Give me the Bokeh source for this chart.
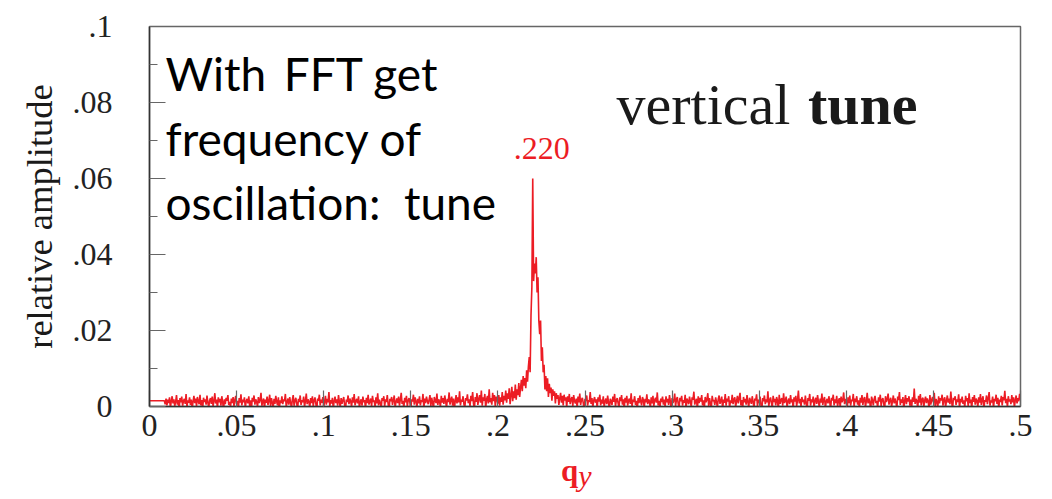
import numpy as np
from bokeh.plotting import figure
from bokeh.layouts import column
from bokeh.models import Range1d, FixedTicker, Label, Div
from bokeh.embed import file_html
from bokeh.resources import INLINE

# FFT amplitude spectrum of the vertical motion, one value per 0.0005 in q_y,
# stored in units of 1e-4 of relative amplitude (q_y = 0 ... 0.5)
freq_step = 0.0005
amp_e4 = [
    15, 15, 15, 15, 15, 15, 15, 15, 15, 15, 15, 15, 15, 15, 15, 15, 15, 15, 6, 21,
    3, 18, 9, 24, -4, 14, 27, 8, 19, 1, 12, 30, 5, 17, -9, 22, 11, 26, 2, 15,
    20, 7, 33, -2, 16, 10, 24, 4, 18, -6, 13, 28, 9, 21, 0, 25, 14, 6, 31, 3,
    17, -8, 23, 12, 19, 5, 29, 10, -3, 16, 22, 7, 26, 1, 14, 35, 8, 18, -5, 24,
    11, 20, 2, 27, 13, -11, 19, 6, 23, 15, 30, 4, 12, -2, 21, 9, 25, 0, 17, 28,
    7, 15, -6, 22, 10, 32, 3, 18, 11, 24, -4, 14, 20, 8, 27, 1, 16, -9, 23, 13,
    29, 5, 19, 12, -1, 25, 9, 17, 36, 2, 14, 21, -7, 18, 10, 26, 4, 15, 31, 0,
    22, 11, -3, 20, 7, 28, 13, 3, 24, -12, 16, 9, 27, 6, 19, 14, 33, -2, 12, 21,
    5, 25, 10, -5, 18, 30, 2, 15, 23, 8, -8, 20, 12, 29, 4, 17, 11, 26, -1, 14,
    34, 6, 19, 13, -4, 22, 9, 27, 1, 16, 24, 7, -10, 21, 15, 31, 3, 18, 10, 25,
    -2, 13, 28, 5, 20, 11, 38, 0, 17, 8, 23, -6, 14, 26, 9, 19, 2, 30, 12, -3,
    22, 7, 16, 25, 4, -9, 18, 12, 29, 6, 21, 14, -1, 24, 10, 33, 3, 15, 20, 8,
    27, -5, 13, 19, 2, 26, 11, 17, -7, 23, 9, 31, 5, 14, 21, 0, 28, 12, 16, -2,
    24, 8, 35, 3, 18, 10, -6, 22, 15, 27, 1, 19, 12, 30, 6, -11, 20, 14, 25, 4,
    17, 29, -3, 12, 21, 9, 26, 2, 18, 36, 7, 15, -4, 23, 11, 28, 0, 16, 22, 10,
    -8, 19, 13, 31, 5, 24, 14, -2, 20, 8, 27, 3, 17, 12, 33, -5, 21, 9, 26, 15,
    6, 18, 30, 1, 23, 11, -7, 25, 16, 9, 34, 4, 19, 13, -1, 28, 10, 22, 7, 29,
    14, -4, 20, 12, 37, 5, 17, 26, 2, 21, -9, 15, 30, 8, 24, 11, 40, 3, 18, 13,
    27, 6, -3, 22, 16, 32, 9, 19, 1, 28, 14, 38, 7, -6, 25, 12, 35, 4, 20, 30,
    10, 42, 2, 24, 15, 33, -4, 19, 28, 8, 45, 11, 22, 5, 36, 14, 30, 0, 26, 18,
    # tune line, q_y = 0.200 ... 0.235
    8, 30, 2, 24, 12, 38, 5, 28, 16, 42,
    10, 35, 20, 48, 6, 30, 52, 14, 40, 22,
    58, 18, 45, 30, 62, 25, 50, 70, 40, 80,
    55, 75, 48, 95, 65, 105, 130, 90, 240, 314,
    600, 330, 376, 350, 393, 300, 340, 226, 190, 226,
    120, 156, 90, 110, 45, 80, 40, 74, 25, 60,
    35, 50, 15, 45, 28, 40, 8, 35, 20, 30,
    4,
    22, 36, 10, 28, 3, 31, 16, 24, -2, 27, 12, 33, 6, 19, 25, 1, 30, 14, 8, 21,
    -5, 26, 11, 34, 4, 18, 23, 9, -8, 20, 15, 29, 2, 17, 12, 38, 7, 22, -3, 16,
    25, 10, 19, -6, 24, 13, 31, 3, 18, 8, 27, -2, 14, 21, 6, 29, 11, -9, 20, 15,
    4, 26, 12, 33, 0, 17, 22, 9, -4, 24, 14, 30, 5, 19, -7, 23, 10, 28, 2, 16,
    21, 7, 35, -1, 18, 12, 27, 4, 15, -10, 22, 9, 29, 13, 3, 25, 17, -3, 20, 11,
    32, 6, 19, 14, -5, 24, 8, 28, 1, 17, 23, 10, 37, 3, 15, -8, 21, 12, 26, 5,
    18, -2, 27, 11, 20, 4, 30, 13, -6, 22, 9, 16, 34, 0, 19, 25, 7, -4, 23, 14,
    28, 2, 17, 10, 31, -7, 21, 15, 6, 26, 12, -1, 24, 18, 39, 5, 14, 20, -9, 27,
    9, 23, 13, 30, 3, 16, -4, 25, 11, 19, 35, 1, 22, 8, -6, 28, 14, 17, 4, 24,
    12, -3, 20, 29, 7, 15, 26, -8, 18, 10, 33, 2, 21, 13, 27, -5, 16, 9, 31, 6,
    19, 24, -1, 14, 28, 8, 22, 36, 3, 17, -7, 25, 11, 20, 5, 30, 12, -2, 23, 15,
    7, 27, 13, -6, 21, 16, 32, 1, 18, 9, 26, 4, -10, 22, 14, 29, 6, 19, 11, 40,
    0, 17, 24, 10, -4, 28, 12, 20, 3, 25, 15, -8, 31, 7, 18, 22, 2, 35, 9, 16,
    26, -3, 14, 21, 6, 30, 11, 19, -6, 24, 13, 28, 1, 17, 42, 8, 20, -1, 25, 12,
    18, 5, 29, 9, -9, 22, 15, 33, 2, 19, 11, 26, -4, 16, 23, 7, 30, 13, -2, 21,
    10, 34, 4, 18, 25, -5, 14, 20, 8, 27, 12, -7, 23, 16, 31, 3, 19, 9, 28, 0,
    15, 22, -3, 26, 11, 17, 37, 6, 20, 13, -8, 24, 9, 29, 2, 18, 14, 33, -1, 21,
    12, 27, 5, 16, -6, 23, 10, 30, 4, 19, 25, -2, 14, 36, 8, 21, 11, -9, 26, 17,
    3, 20, 28, 9, 15, -4, 24, 13, 31, 1, 18, 22, 7, -7, 27, 12, 19, 34, 5, 16,
    23, -1, 14, 29, 8, 21, 11, -5, 26, 17, 38, 4, 19, 10, 25, -8, 15, 30, 6, 22,
    13, 27, 2, 18, -3, 24, 12, 47, 7, 20, 15, -6, 28, 10, 33, 3, 19, 23, -1, 16,
    26, 9, 21, 14, -7, 30, 5, 17, 25, 11, 36, 0, 20, 13, -4, 27, 8, 22, 16, 31,
    2, 18, 24, -2, 15, 29, 10, 21, 6, 39, 13, -9, 23, 17, 27, 4, 19, 12, 32, -5,
    20, 11, 26, 7, 16, -3, 28, 14, 22, 1, 35, 9, 18, -6, 25, 12, 30, 5, 21, 15,
    -1, 24, 10, 33, 4, 19, 27, -8, 17, 13, 29, 6, 22, 38, 2, 16, 11, 26, -4, 20,
    14, 31, 7, 23, -5, 18, 12, 28, 3, 25, 16, 41, 9, 20, -2, 27, 13, 19, 6, 30,
    11, 24, -3, 17, 29, 8, 22, 14, 33, 18,
]

tune_value = 0.220
tune_label = ".220"

x_ticks = [0, 0.05, 0.1, 0.15, 0.2, 0.25, 0.3, 0.35, 0.4, 0.45, 0.5]
x_tick_labels = ["0", ".05", ".1", ".15", ".2", ".25", ".3", ".35", ".4", ".45", ".5"]
y_ticks = [0, 0.02, 0.04, 0.06, 0.08, 0.1]
y_tick_labels = ["0", ".02", ".04", ".06", ".08", ".1"]
y_minor_ticks = [0.01, 0.03, 0.05, 0.07, 0.09]

freq = np.arange(len(amp_e4)) * freq_step
amp = np.array(amp_e4) * 1e-4

RED = "#ec1c24"
SERIF = "Liberation Serif"

p = figure(
    width=1052, height=455,
    x_range=Range1d(0, 0.5), y_range=Range1d(0, 0.1),
    output_backend="svg", toolbar_location=None,
    min_border_left=149, min_border_right=32,
    min_border_top=26, min_border_bottom=49,
    background_fill_color="white", border_fill_color="white",
    margin=0,
)
p.grid.visible = False
p.outline_line_color = "#666666"
p.outline_line_width = 1.5

p.line(freq, amp, color=RED, line_width=1.6)

# axes: ticks point into the frame
for ax in (p.xaxis[0], p.yaxis[0]):
    ax.axis_line_color = "#333333"
    ax.axis_line_width = 1.5
    ax.major_tick_out = 0
    ax.major_tick_in = 16
    ax.minor_tick_out = 0
    ax.minor_tick_in = 8
    ax.major_tick_line_color = "#666666"
    ax.minor_tick_line_color = "#666666"
    ax.major_tick_line_width = 1.2
    ax.minor_tick_line_width = 1.2
    ax.major_label_text_font = SERIF
    ax.major_label_text_font_size = "32px"
    ax.major_label_text_color = "#222222"

p.xaxis.ticker = FixedTicker(ticks=x_ticks)
p.xaxis.major_label_overrides = dict(zip(x_ticks, x_tick_labels))
p.xaxis.major_label_standoff = 8

p.yaxis.ticker = FixedTicker(ticks=y_ticks, minor_ticks=y_minor_ticks)
p.yaxis.major_label_overrides = dict(zip(y_ticks, y_tick_labels))
p.yaxis.major_label_standoff = 37
p.yaxis.axis_label = "relative amplitude"
p.yaxis.axis_label_text_font = SERIF
p.yaxis.axis_label_text_font_style = "normal"
p.yaxis.axis_label_text_font_size = "36.5px"
p.yaxis.axis_label_text_color = "#1a1a1a"
p.yaxis.axis_label_standoff = 10

# tune value over the peak
p.add_layout(Label(x=tune_value, y=0.0679, x_offset=9, text=tune_label, text_font=SERIF,
                   text_font_size="32px", text_color=RED, text_align="center",
                   text_baseline="alphabetic"))

# heading
p.add_layout(Label(x=0.2681, y=0.0795, text="vertical", text_font=SERIF, text_font_size="58px",
                   text_color="#1a1a1a", text_baseline="alphabetic"))
p.add_layout(Label(x=0.3780, y=0.0795, text="tune", text_font=SERIF, text_font_size="58px",
                   text_font_style="bold", text_color="#1a1a1a", text_baseline="alphabetic"))

# explanatory note
note_lines = ["With\u2009 FFT get", "frequency of", "oscillation:\u00a0 tune"]
note_y = [0.0876, 0.0705, 0.0537]
for line, yy in zip(note_lines, note_y):
    p.add_layout(Label(x=0.0092, y=yy, text=line, text_font="Lato", text_font_size="46px",
                       text_color="#000000", text_baseline="alphabetic"))

# x axis title: bold q with italic subscript y
x_title = Div(
    text='<span style="font-weight:bold">q</span>'
         '<span style="font-style:italic;font-size:30px;position:relative;top:5px">y</span>',
    width=80, height=41, margin=(3, 0, 0, 561),
    styles={"font-family": SERIF, "font-size": "31px", "color": RED, "line-height": "25px"},
)

layout = column(p, x_title, spacing=0, margin=0)
open("out.html", "w").write(file_html(layout, INLINE))
